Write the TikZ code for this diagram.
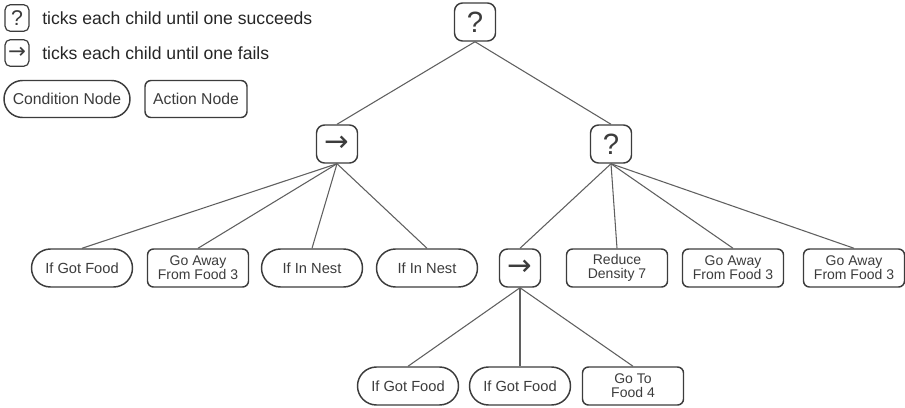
\documentclass[tikz,border=0pt]{standalone}
\usepackage{fontspec}
\setmainfont{Liberation Sans}
\newfontfamily\symfont{DejaVu Sans}
\usetikzlibrary{shapes.misc}
\definecolor{edge}{RGB}{95,95,95}
\definecolor{rim}{RGB}{60,60,60}
\newcommand{\drawlink}{\draw[link]}
\newcommand{\bigsym}[1]{{\fontsize{22}{22}\selectfont #1}}
\newcommand{\smallsym}[1]{{\fontsize{16}{16}\selectfont #1}}
\newcommand{\fwd}{{\symfont\char"2192}}
\tikzset{
  link/.style={draw=edge, line width=0.8pt},
  ctrl/.style={draw=rim, line width=1.1pt, fill=white, rounded corners=6pt,
    minimum width=30.75pt, minimum height=28.5pt, inner sep=0pt, text=rim},
  keybox/.style={draw=rim, line width=0.9pt, fill=white, rounded corners=4pt,
    minimum width=18pt, minimum height=20pt, inner sep=0pt, text=rim},
  cond/.style={rounded rectangle, draw=rim, line width=1.1pt, fill=white,
    minimum width=75.75pt, minimum height=28.5pt, inner sep=0pt,
    font=\fontsize{11}{11}\selectfont, text=rim},
  act/.style={draw=rim, line width=1.1pt, fill=white, rounded corners=4.5pt,
    minimum width=75.75pt, minimum height=28.5pt, inner sep=0pt, align=center,
    font=\fontsize{10.5}{10.5}\selectfont, text=rim},
  keytext/.style={anchor=west, inner sep=0pt, font=\fontsize{13.2}{15}\selectfont, text=black!85}
}
\begin{document}
\begin{tikzpicture}[x=0.75pt,y=-0.75pt]
\useasboundingbox (0,0) rectangle (905,407);
% key
\node[keybox] (keysel) at (17,18) {\smallsym{?}};
\node[keybox] (keyseq) at (17,53) {\smallsym{\fwd}};
\node[keytext] (keyseltxt) at (42,18) {ticks each child until one succeeds};
\node[keytext] (keyseqtxt) at (42,53) {ticks each child until one fails};
\node[cond, minimum width=94.5pt, minimum height=27.75pt, font=\fontsize{11.8}{13}\selectfont] (keycond) at (67,99) {Condition Node};
\node[act, minimum width=76.5pt, minimum height=27.75pt, font=\fontsize{11.8}{13}\selectfont] (keyact) at (196,99) {Action Node};
% control nodes
\node[ctrl] (root) at (475,22) {\bigsym{?}};
\node[ctrl] (seqa) at (337,144) {\bigsym{\fwd}};
\node[ctrl] (selb) at (611,144) {\bigsym{?}};
\node[ctrl] (seqc) at (520,268) {\bigsym{\fwd}};
% leaves
\node[cond] (gotfooda) at (82,268) {If Got Food};
\node[act] (awaya) at (198,268) {Go Away\\From Food 3};
\node[cond] (nesta) at (312,268) {If In Nest};
\node[cond] (nestb) at (427,268) {If In Nest};
\node[act] (reduce) at (617,268) {Reduce\\Density 7};
\node[act] (awayb) at (733,268) {Go Away\\From Food 3};
\node[act] (awayc) at (854,268) {Go Away\\From Food 3};
\node[cond] (gotfoodb) at (408,386) {If Got Food};
\node[cond] (gotfoodc) at (520,386) {If Got Food};
\node[act] (gotofood) at (633,386) {Go To\\Food 4};
% links
\foreach \c in {seqa,selb} \drawlink (root.south) -- (\c.north);
\foreach \c in {gotfooda,awaya,nesta,nestb} \drawlink (seqa.south) -- (\c.north);
\foreach \c in {seqc,reduce,awayb,awayc} \drawlink (selb.south) -- (\c.north);
\foreach \c in {gotfoodb,gotfoodc,gotofood} \drawlink (seqc.south) -- (\c.north);
\end{tikzpicture}
\end{document}
